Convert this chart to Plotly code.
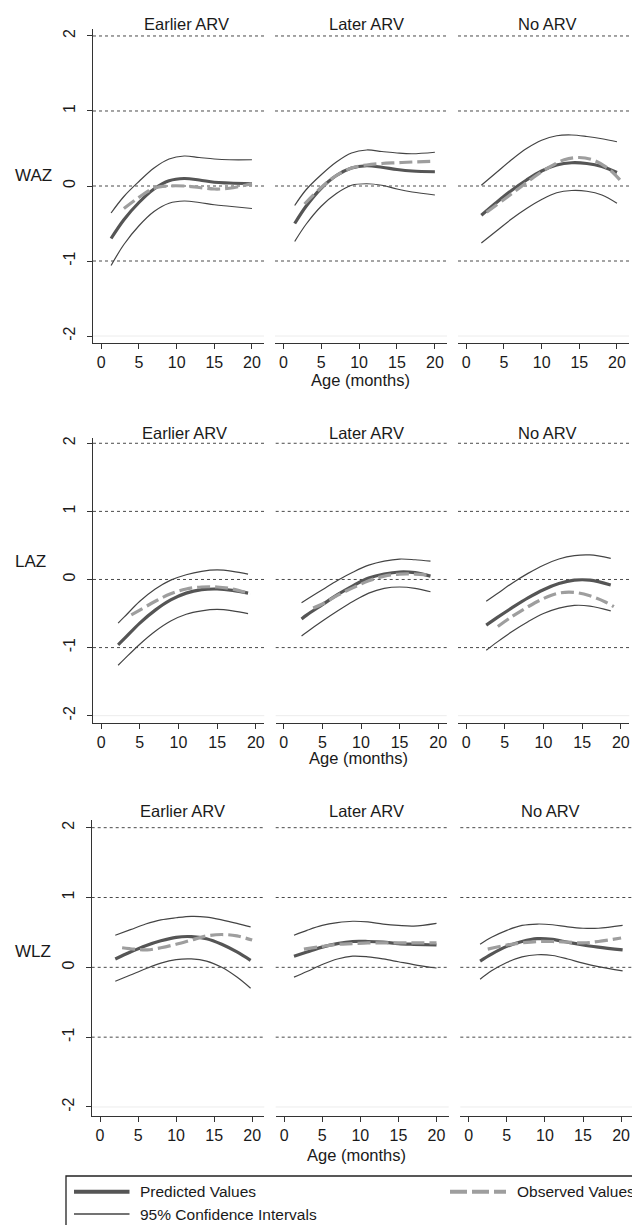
import plotly.graph_objects as go
from plotly.subplots import make_subplots

# ---------------- data ----------------
ROW_LABELS = ["WAZ", "LAZ", "WLZ"]
GROUPS = ["Earlier ARV", "Later ARV", "No ARV"]
X_TICKS = [0, 5, 10, 15, 20]
Y_TICKS = [-2, -1, 0, 1, 2]
Y_TICK_LABELS = ["-2", "-1", "0", "1", "2"]

# WAZ
WAZ_EARLY_X = [1.3, 3, 5, 7, 9, 11, 13, 15, 17, 20]
WAZ_EARLY_PRED = [-0.70, -0.45, -0.22, -0.04, 0.07, 0.10, 0.08, 0.05, 0.04, 0.03]
WAZ_EARLY_HI = [-0.36, -0.14, 0.06, 0.24, 0.36, 0.40, 0.38, 0.36, 0.35, 0.35]
WAZ_EARLY_LO = [-1.06, -0.78, -0.53, -0.34, -0.23, -0.20, -0.22, -0.25, -0.27, -0.30]
WAZ_EARLY_OBS_X = [3, 5, 7, 9, 11, 13, 15, 17, 20]
WAZ_EARLY_OBS = [-0.30, -0.15, -0.03, 0.0, 0.0, -0.02, -0.04, -0.03, 0.03]

WAZ_LATER_X = [1.5, 3, 5, 7, 9, 11, 13, 15, 17, 20]
WAZ_LATER_PRED = [-0.50, -0.27, -0.03, 0.14, 0.24, 0.27, 0.25, 0.22, 0.20, 0.19]
WAZ_LATER_HI = [-0.26, -0.05, 0.15, 0.32, 0.44, 0.48, 0.46, 0.44, 0.43, 0.45]
WAZ_LATER_LO = [-0.74, -0.51, -0.27, -0.10, 0.01, 0.03, 0.01, -0.04, -0.08, -0.12]
WAZ_LATER_OBS_X = [2.8, 5, 7, 9, 11, 13, 15, 17, 20]
WAZ_LATER_OBS = [-0.24, -0.02, 0.14, 0.24, 0.28, 0.30, 0.31, 0.32, 0.33]

WAZ_NO_X = [2, 4, 6, 8, 10, 12, 14, 16, 18, 20]
WAZ_NO_PRED = [-0.39, -0.22, -0.06, 0.08, 0.20, 0.28, 0.31, 0.30, 0.26, 0.18]
WAZ_NO_HI = [0.01, 0.18, 0.35, 0.50, 0.61, 0.67, 0.68, 0.66, 0.63, 0.59]
WAZ_NO_LO = [-0.76, -0.60, -0.44, -0.30, -0.18, -0.09, -0.06, -0.07, -0.12, -0.23]
WAZ_NO_OBS_X = [2.7, 5, 7, 9, 11, 13, 15, 17, 19, 20.4]
WAZ_NO_OBS = [-0.35, -0.18, -0.03, 0.12, 0.25, 0.35, 0.38, 0.34, 0.22, 0.08]

# LAZ
LAZ_EARLY_X = [2.2, 3, 5, 7, 9, 11, 13, 15, 17, 19]
LAZ_EARLY_PRED = [-0.96, -0.87, -0.64, -0.45, -0.30, -0.20, -0.15, -0.14, -0.16, -0.20]
LAZ_EARLY_HI = [-0.64, -0.55, -0.32, -0.14, -0.01, 0.07, 0.12, 0.14, 0.12, 0.08]
LAZ_EARLY_LO = [-1.26, -1.17, -0.95, -0.76, -0.61, -0.51, -0.46, -0.44, -0.46, -0.50]
LAZ_EARLY_OBS_X = [3.9, 5, 7, 9, 11, 13, 15, 17, 19.3]
LAZ_EARLY_OBS = [-0.52, -0.45, -0.32, -0.21, -0.14, -0.11, -0.11, -0.14, -0.21]

LAZ_LATER_X = [2.3, 3, 5, 7, 9, 11, 13, 15, 17, 19]
LAZ_LATER_PRED = [-0.58, -0.52, -0.37, -0.22, -0.09, 0.02, 0.08, 0.11, 0.10, 0.05]
LAZ_LATER_HI = [-0.34, -0.29, -0.15, -0.01, 0.11, 0.21, 0.27, 0.30, 0.29, 0.27]
LAZ_LATER_LO = [-0.83, -0.77, -0.61, -0.46, -0.32, -0.20, -0.13, -0.11, -0.13, -0.18]
LAZ_LATER_OBS_X = [3.8, 5, 7, 9, 11, 13, 15, 17, 19.1]
LAZ_LATER_OBS = [-0.42, -0.36, -0.23, -0.12, -0.02, 0.05, 0.08, 0.08, 0.06]

LAZ_NO_X = [2.6, 4, 6, 8, 10, 12, 14, 16, 18.7]
LAZ_NO_PRED = [-0.67, -0.56, -0.41, -0.27, -0.15, -0.06, -0.01, -0.01, -0.08]
LAZ_NO_HI = [-0.32, -0.21, -0.05, 0.09, 0.21, 0.30, 0.35, 0.36, 0.31]
LAZ_NO_LO = [-1.04, -0.92, -0.76, -0.62, -0.50, -0.42, -0.38, -0.39, -0.46]
LAZ_NO_OBS_X = [4.1, 6, 8, 10, 12, 14, 16, 18, 19.1]
LAZ_NO_OBS = [-0.69, -0.54, -0.40, -0.28, -0.20, -0.19, -0.24, -0.33, -0.40]

# WLZ
WLZ_EARLY_X = [2, 4, 6, 8, 10, 12, 14, 16, 18, 19.8]
WLZ_EARLY_PRED = [0.12, 0.22, 0.31, 0.38, 0.43, 0.44, 0.41, 0.33, 0.22, 0.10]
WLZ_EARLY_HI = [0.46, 0.54, 0.62, 0.68, 0.71, 0.73, 0.72, 0.68, 0.63, 0.58]
WLZ_EARLY_LO = [-0.20, -0.11, -0.02, 0.06, 0.11, 0.12, 0.09, 0.00, -0.14, -0.30]
WLZ_EARLY_OBS_X = [2.9, 4.5, 6.2, 8, 10, 12, 14, 16, 18, 20]
WLZ_EARLY_OBS = [0.28, 0.26, 0.25, 0.28, 0.33, 0.39, 0.45, 0.47, 0.45, 0.39]

WLZ_LATER_X = [1.3, 3, 5, 7, 9, 11, 13, 15, 17, 20]
WLZ_LATER_PRED = [0.16, 0.22, 0.29, 0.34, 0.37, 0.37, 0.36, 0.34, 0.33, 0.32]
WLZ_LATER_HI = [0.46, 0.53, 0.60, 0.64, 0.66, 0.65, 0.62, 0.60, 0.59, 0.63]
WLZ_LATER_LO = [-0.14, -0.06, 0.04, 0.12, 0.16, 0.15, 0.12, 0.08, 0.04, -0.01]
WLZ_LATER_OBS_X = [2.6, 5, 7, 9, 11, 13, 15, 17, 20]
WLZ_LATER_OBS = [0.26, 0.30, 0.33, 0.34, 0.35, 0.35, 0.35, 0.35, 0.35]

WLZ_NO_X = [1.5, 3, 5, 7, 9, 11, 13, 15, 17, 20.2]
WLZ_NO_PRED = [0.09, 0.19, 0.30, 0.37, 0.41, 0.40, 0.36, 0.32, 0.29, 0.25]
WLZ_NO_HI = [0.33, 0.43, 0.53, 0.60, 0.62, 0.61, 0.58, 0.56, 0.56, 0.60]
WLZ_NO_LO = [-0.17, -0.05, 0.07, 0.15, 0.18, 0.17, 0.12, 0.06, 0.01, -0.05]
WLZ_NO_OBS_X = [2.5, 5, 7, 9, 11, 13, 15, 17, 20]
WLZ_NO_OBS = [0.26, 0.32, 0.35, 0.37, 0.37, 0.36, 0.35, 0.37, 0.42]

PANELS = [
    [(WAZ_EARLY_X, WAZ_EARLY_PRED, WAZ_EARLY_HI, WAZ_EARLY_LO, WAZ_EARLY_OBS_X, WAZ_EARLY_OBS),
     (WAZ_LATER_X, WAZ_LATER_PRED, WAZ_LATER_HI, WAZ_LATER_LO, WAZ_LATER_OBS_X, WAZ_LATER_OBS),
     (WAZ_NO_X, WAZ_NO_PRED, WAZ_NO_HI, WAZ_NO_LO, WAZ_NO_OBS_X, WAZ_NO_OBS)],
    [(LAZ_EARLY_X, LAZ_EARLY_PRED, LAZ_EARLY_HI, LAZ_EARLY_LO, LAZ_EARLY_OBS_X, LAZ_EARLY_OBS),
     (LAZ_LATER_X, LAZ_LATER_PRED, LAZ_LATER_HI, LAZ_LATER_LO, LAZ_LATER_OBS_X, LAZ_LATER_OBS),
     (LAZ_NO_X, LAZ_NO_PRED, LAZ_NO_HI, LAZ_NO_LO, LAZ_NO_OBS_X, LAZ_NO_OBS)],
    [(WLZ_EARLY_X, WLZ_EARLY_PRED, WLZ_EARLY_HI, WLZ_EARLY_LO, WLZ_EARLY_OBS_X, WLZ_EARLY_OBS),
     (WLZ_LATER_X, WLZ_LATER_PRED, WLZ_LATER_HI, WLZ_LATER_LO, WLZ_LATER_OBS_X, WLZ_LATER_OBS),
     (WLZ_NO_X, WLZ_NO_PRED, WLZ_NO_HI, WLZ_NO_LO, WLZ_NO_OBS_X, WLZ_NO_OBS)],
]

# ---------------- layout geometry (page pixels) ----------------
W, H = 640, 1225
OFF = 8  # the page body margin shifts the figure by 8px
FONT = "Liberation Sans, Arial, sans-serif"
TXT = "#1a1a1a"
PRED_C = "#555555"
CI_C = "#444444"
OBS_C = "#9e9e9e"
GRID_C = "#4a4a4a"

ROW_Y = [(29, 343), (437.7, 722.7), (820, 1116)]
ROW_YRANGE = [(-2.093, 2.093), (-2.103, 2.082), (-2.129, 2.11)]
ROW_XRANGE = [(-1.1, 21.6), (-1.05, 21.1), (-1.1, 21.6)]
ROW_PANELS = [
    [(93, 264), (275, 447), (458, 629)],
    [(93, 264.3), (275.7, 446.7), (458, 629.3)],
    [(91.7, 264.3), (275.7, 448.7), (460.3, 633.3)],
]
TITLE_POS = [
    [(186, 24), (366, 24), (547, 24)],
    [(184.7, 433), (366, 433), (547, 433)],
    [(182.8, 811), (366.7, 811), (550, 811)],
]
ROWLAB_POS = [(12.7, 176), (12.7, 561.7), (12.7, 951.7)]
XTITLE_POS = [(360, 380), (358.7, 758.3), (356, 1155)]


def px(x):
    return (x - OFF) / W


def py(y):
    return 1 - (y - OFF) / H


fig = make_subplots(rows=3, cols=3)

shapes = []
annotations = []

for r in range(3):
    for c in range(3):
        xs, pred, hi, lo, ox, obs = PANELS[r][c]
        kw = dict(row=r + 1, col=c + 1)
        fig.add_trace(go.Scatter(x=xs, y=pred, mode="lines", name="Predicted Values",
                                 line=dict(color=PRED_C, width=3.2, shape="spline", smoothing=1.0),
                                 showlegend=False, hoverinfo="skip"), **kw)
        fig.add_trace(go.Scatter(x=xs, y=hi, mode="lines", name="95% Confidence Intervals",
                                 line=dict(color=CI_C, width=1.2, shape="spline", smoothing=1.0),
                                 showlegend=False, hoverinfo="skip"), **kw)
        fig.add_trace(go.Scatter(x=xs, y=lo, mode="lines", name="95% Confidence Intervals",
                                 line=dict(color=CI_C, width=1.2, shape="spline", smoothing=1.0),
                                 showlegend=False, hoverinfo="skip"), **kw)
        fig.add_trace(go.Scatter(x=ox, y=obs, mode="lines", name="Observed Values",
                                 line=dict(color=OBS_C, width=3.2, dash="13px,5px",
                                           shape="spline", smoothing=1.0),
                                 showlegend=False, hoverinfo="skip"), **kw)

        idx = r * 3 + c + 1
        xa = "xaxis" if idx == 1 else f"xaxis{idx}"
        ya = "yaxis" if idx == 1 else f"yaxis{idx}"
        x0, x1 = ROW_PANELS[r][c]
        y0, y1 = ROW_Y[r]
        fig.layout[xa].update(
            domain=[px(x0), px(x1)], range=list(ROW_XRANGE[r]),
            tickvals=X_TICKS, ticks="outside", ticklen=5, tickwidth=1, tickcolor="#333",
            showline=True, linecolor="#333", linewidth=1.3, showgrid=False, zeroline=False,
            tickfont=dict(family=FONT, size=16, color=TXT), fixedrange=True,
        )
        fig.layout[ya].update(
            domain=[py(y1), py(y0)], range=list(ROW_YRANGE[r]),
            tickvals=Y_TICKS, ticktext=Y_TICK_LABELS, showgrid=False, zeroline=False,
            fixedrange=True,
        )
        if c == 0:
            fig.layout[ya].update(
                showline=True, linecolor="#333", linewidth=1.3, ticks="outside", ticklen=5,
                tickwidth=1, tickcolor="#333", showticklabels=True, tickangle=-90,
                tickfont=dict(family=FONT, size=16, color=TXT), ticklabelstandoff=5,
            )
        else:
            fig.layout[ya].update(showline=False, ticks="", showticklabels=False)

        xref = "x" if idx == 1 else f"x{idx}"
        yref = "y" if idx == 1 else f"y{idx}"
        # horizontal reference lines
        for gv in Y_TICKS:
            if gv == -2:
                shapes.append(dict(type="line", xref=f"{xref} domain", yref=yref, x0=0, x1=1,
                                   y0=gv, y1=gv, layer="below",
                                   line=dict(color="#ececec", width=1)))
            else:
                shapes.append(dict(type="line", xref=f"{xref} domain", yref=yref, x0=0, x1=1,
                                   y0=gv, y1=gv, layer="below",
                                   line=dict(color=GRID_C, width=1, dash="3px,3px")))
        tx, ty = TITLE_POS[r][c]
        annotations.append(dict(text=GROUPS[c], x=px(tx), y=py(ty), xref="paper", yref="paper",
                                xanchor="center", yanchor="middle", showarrow=False,
                                font=dict(family=FONT, size=16.5, color=TXT)))
    lx, ly = ROWLAB_POS[r]
    annotations.append(dict(text=ROW_LABELS[r], x=px(lx), y=py(ly), xref="paper", yref="paper",
                            xanchor="left", yanchor="middle", showarrow=False,
                            font=dict(family=FONT, size=17, color=TXT)))
    ax, ay = XTITLE_POS[r]
    annotations.append(dict(text="Age (months)", x=px(ax), y=py(ay), xref="paper", yref="paper",
                            xanchor="center", yanchor="middle", showarrow=False,
                            font=dict(family=FONT, size=16.5, color=TXT)))

# ---------------- legend (drawn manually, Stata style) ----------------
shapes.append(dict(type="rect", xref="paper", yref="paper", x0=px(66), x1=px(660),
                   y0=py(1240), y1=py(1176), line=dict(color="#222", width=1.3),
                   fillcolor="rgba(0,0,0,0)"))
shapes.append(dict(type="line", xref="paper", yref="paper", x0=px(74), x1=px(129.5),
                   y0=py(1191.7), y1=py(1191.7), line=dict(color=PRED_C, width=4)))
shapes.append(dict(type="line", xref="paper", yref="paper", x0=px(74), x1=px(129.5),
                   y0=py(1214), y1=py(1214), line=dict(color=CI_C, width=1.3)))
shapes.append(dict(type="line", xref="paper", yref="paper", x0=px(450), x1=px(506),
                   y0=py(1191.7), y1=py(1191.7),
                   line=dict(color=OBS_C, width=4, dash="17px,5px")))
for text, lx, ly in [("Predicted Values", 138.3, 1191.7),
                     ("95% Confidence Intervals", 138.3, 1214),
                     ("Observed Values", 515, 1191.7)]:
    annotations.append(dict(text=text, x=px(lx), y=py(ly), xref="paper", yref="paper",
                            xanchor="left", yanchor="middle", showarrow=False,
                            font=dict(family=FONT, size=15.5, color=TXT)))

fig.update_layout(
    width=W, height=H, margin=dict(l=0, r=0, t=0, b=0),
    paper_bgcolor="white", plot_bgcolor="white",
    showlegend=False, shapes=shapes, annotations=annotations,
)

fig.write_html("out.html")
